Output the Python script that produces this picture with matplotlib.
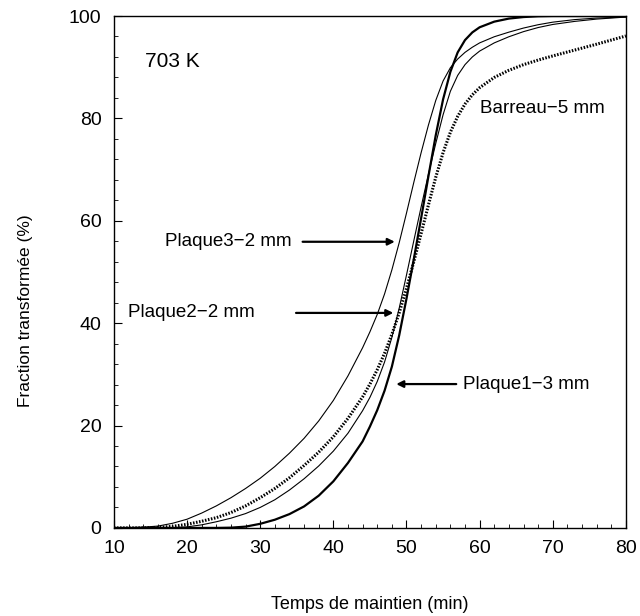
import numpy as np
import matplotlib
matplotlib.use("Agg")
import matplotlib.pyplot as plt

plt.rcParams['font.family'] = ['Liberation Sans', 'DejaVu Sans']

# temps de maintien (min)
t = [10, 12, 14, 16, 18, 20, 22, 24, 26, 28, 30, 32, 34, 36, 38, 40, 42, 44,
     45, 46, 47, 48, 49, 50, 51, 52, 53, 54, 55, 56, 57, 58, 59, 60,
     62, 64, 66, 68, 70, 73, 76, 80]

# fraction transformee (%)
plaque1 = [0, 0, 0, 0, 0, 0, 0, 0, 0.05, 0.25, 0.8, 1.6, 2.7, 4.2, 6.3, 9.1,
           12.7, 16.9, 19.8, 23.0, 26.8, 31.5, 37.6, 44.8, 52.5, 60.5, 68.7,
           76.7, 83.7, 89.1, 92.9, 95.3, 96.8, 97.8, 98.9, 99.5, 99.8, 99.95,
           100, 100, 100, 100]
plaque2 = [0, 0, 0, 0, 0.05, 0.2, 0.6, 1.2, 1.9, 2.8, 4.0, 5.5, 7.4, 9.6,
           12.1, 15.0, 18.5, 22.9, 25.5, 28.6, 32.4, 37.2, 42.9, 49.4, 56.1,
           62.7, 69.1, 75.1, 80.7, 85.3, 88.4, 90.5, 92.0, 93.15, 94.75,
           95.95, 96.95, 97.75, 98.35, 98.95, 99.4, 99.8]
plaque3 = [0, 0.05, 0.15, 0.35, 0.9, 1.7, 2.9, 4.3, 5.9, 7.7, 9.7, 12.0, 14.6,
           17.5, 20.9, 24.9, 29.7, 35.2, 38.3, 41.7, 45.7, 50.4, 55.7, 61.5,
           67.5, 73.3, 78.7, 83.5, 87.3, 89.9, 91.6, 92.9, 93.9, 94.75, 95.95,
           96.85, 97.65, 98.3, 98.8, 99.3, 99.6, 99.8]
barreau = [0, 0, 0, 0.1, 0.3, 0.7, 1.3, 2.0, 3.0, 4.3, 5.9, 7.7, 9.8, 12.2,
           14.8, 17.8, 21.4, 25.6, 28.1, 30.9, 34.1, 37.8, 42.0, 46.8, 52.0,
           57.5, 63.1, 68.5, 73.3, 77.3, 80.4, 82.8, 84.6, 86.0, 88.0, 89.4,
           90.5, 91.4, 92.2, 93.35, 94.5, 96.1]

fig = plt.figure(figsize=(6.4, 6.16), dpi=100)
ax = fig.add_axes([0.178, 0.143, 0.8, 0.831])

ax.plot(t, plaque3, color='black', lw=0.8)
ax.plot(t, plaque2, color='black', lw=0.8)
ax.plot(t, barreau, color='black', lw=2.2, ls=(0, (0.5, 0.5)))
ax.plot(t, plaque1, color='black', lw=1.6)

ax.set_xlim(10, 80)
ax.set_ylim(0, 100)
ax.set_xticks(np.arange(10, 81, 10))
ax.set_xticks(np.arange(10, 81, 2), minor=True)
ax.set_yticks(np.arange(0, 101, 20))
ax.set_yticks(np.arange(0, 101, 4), minor=True)
ax.tick_params(which='both', direction='in', top=False, right=False,
               labelsize=14, pad=9)
ax.tick_params(which='major', length=6)
ax.tick_params(which='minor', length=3)
for s in ax.spines.values():
    s.set_linewidth(1.0)

ax.set_xlabel('Temps de maintien (min)', fontsize=13, labelpad=28)
ax.set_ylabel('Fraction transformée (%)', fontsize=12.5)
ax.yaxis.set_label_coords(-0.158, 0.425)

fs = 13.5
ax.text(14.2, 91.2, '703 K', fontsize=15, va='center')
ax.text(60.0, 82.0, 'Barreau\u22125 mm', fontsize=fs, va='center')
ax.text(17.0, 55.9, 'Plaque3\u22122 mm', fontsize=fs, va='center')
ax.text(11.9, 42.0, 'Plaque2\u22122 mm', fontsize=fs, va='center')
ax.text(57.7, 28.1, 'Plaque1\u22123 mm', fontsize=fs, va='center')

arrow = dict(arrowstyle='-|>', color='black', lw=1.6,
             mutation_scale=10, shrinkA=0, shrinkB=0)
ax.annotate('', xy=(48.4, 55.9), xytext=(35.8, 55.9), arrowprops=arrow)
ax.annotate('', xy=(48.2, 42.0), xytext=(34.9, 42.0), arrowprops=arrow)
ax.annotate('', xy=(48.6, 28.1), xytext=(56.8, 28.1), arrowprops=arrow)

plt.savefig('out.png', dpi=100)
